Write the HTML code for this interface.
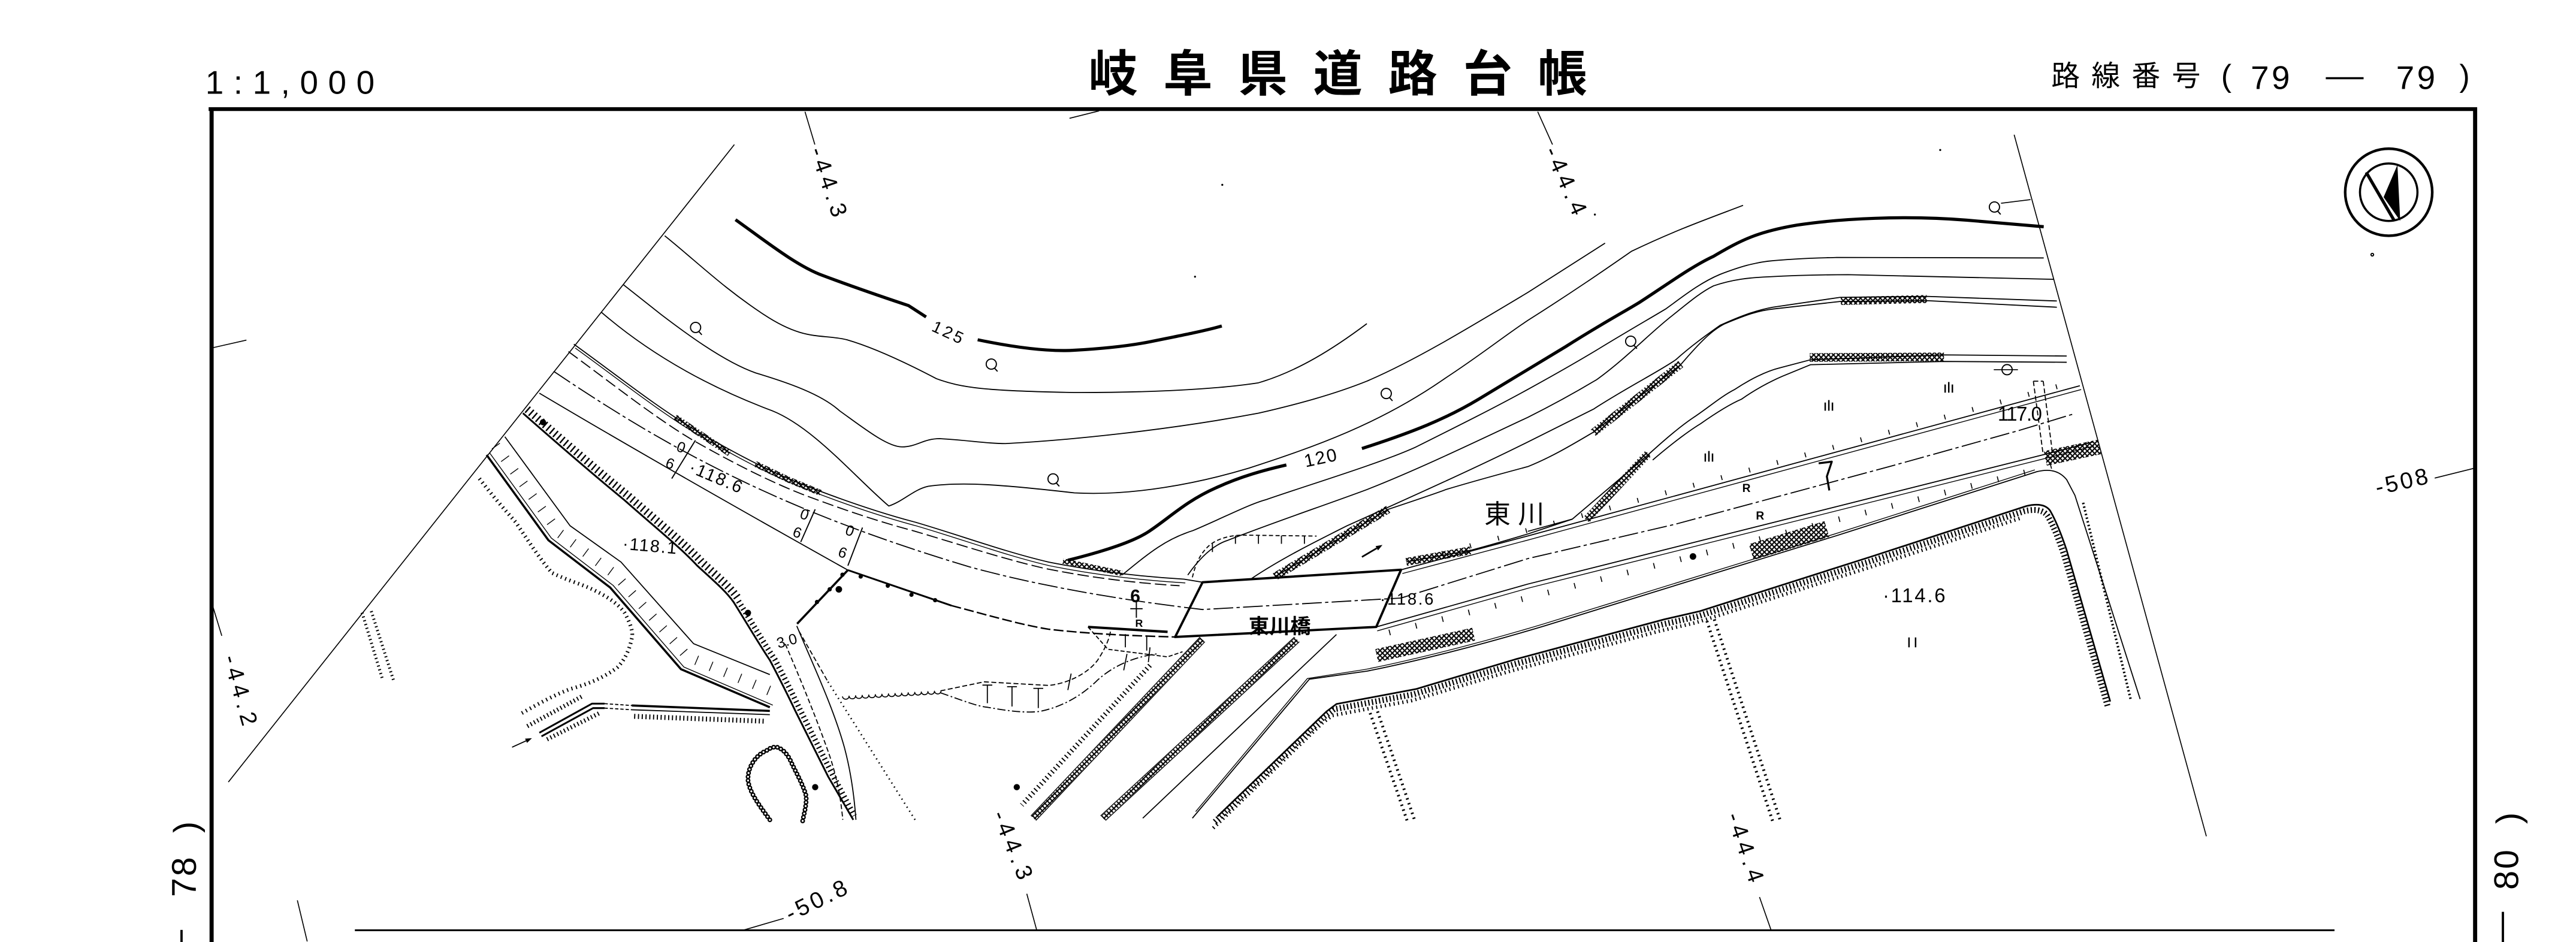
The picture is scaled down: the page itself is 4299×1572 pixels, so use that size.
<!DOCTYPE html>
<html><head><meta charset="utf-8"><title>岐阜県道路台帳</title>
<style>
html,body{margin:0;padding:0;background:#fff}
body{width:4299px;height:1572px;overflow:hidden}
svg{display:block}
text{font-family:"Liberation Sans","Noto Sans CJK JP",sans-serif;fill:#000;stroke:none}
.j{font-family:"Liberation Sans","Noto Sans CJK JP",sans-serif}
</style></head><body>
<svg xmlns="http://www.w3.org/2000/svg" width="4299" height="1572" viewBox="0 0 1568 573.36" preserveAspectRatio="none">
<defs>
<pattern id="xx" width="3" height="3" patternUnits="userSpaceOnUse">
<path d="M0,0L3,3M3,0L0,3" stroke="#000" stroke-width="0.75" fill="none"/>
</pattern>
</defs>
<rect width="1568" height="573.36" fill="#fff"/>

<!-- HEADER -->
<text x="125" y="57" font-size="20" textLength="103" lengthAdjust="spacing">1:1,000</text>
<g class="j" font-size="30" font-weight="bold">
<text x="662.5" y="55.5">岐</text><text x="708.1" y="55.5">阜</text><text x="753.7" y="55.5">県</text><text x="799.3" y="55.5">道</text><text x="844.9" y="55.5">路</text><text x="890.5" y="55.5">台</text><text x="936.1" y="55.5">帳</text>
</g>
<g class="j" font-size="17.5">
<text x="1248.6" y="52.2">路</text><text x="1273" y="52.2">線</text><text x="1297.5" y="52.2">番</text><text x="1322" y="52.2">号</text>
</g>
<text x="1352" y="52.5" font-size="19">(</text>
<text x="1370" y="54.1" font-size="20" letter-spacing="1.6">79</text>
<line x1="1415.7" y1="47.6" x2="1438.7" y2="47.6" stroke="#000" stroke-width="1.3"/>
<text x="1458.5" y="54.1" font-size="20" letter-spacing="1.6">79</text>
<text x="1497" y="52.5" font-size="19">)</text>

<!-- FRAME -->
<g stroke="#000" fill="none">
<line x1="127" y1="66.4" x2="1507.8" y2="66.4" stroke-width="2.3"/>
<line x1="128.8" y1="65.4" x2="128.8" y2="573.4" stroke-width="2.5"/>
<line x1="1506.6" y1="65.4" x2="1506.6" y2="573.4" stroke-width="2.5"/>
<line x1="216" y1="566.2" x2="1421" y2="566.2" stroke-width="1.1"/>
</g>

<!-- side labels -->
<text transform="translate(119.3,546) rotate(-90)" font-size="21" letter-spacing="1">78</text>
<text transform="translate(120.4,507) rotate(-90)" font-size="21">)</text>
<line x1="110.5" y1="566" x2="110.5" y2="573.4" stroke="#000" stroke-width="1.4"/>
<text transform="translate(1532.8,541.6) rotate(-90)" font-size="21" letter-spacing="1">80</text>
<text transform="translate(1534,501.5) rotate(-90)" font-size="21">)</text>
<line x1="1523.5" y1="555" x2="1523.5" y2="573.4" stroke="#000" stroke-width="1.4"/>

<g fill="none" stroke="#000" stroke-width="0.65" stroke-linejoin="round">
<!-- boundaries & ticks -->
<path d="M447,88L139,476M1226,82L1343,509" stroke-width="0.6"/>
<path d="M128,212L150,207M128,364L135,387M490,68L496,88M936,68L945,88M1482,291L1506,285M625,544L631,566M1071,546L1078,566M181,548L187,573M453,566L477,559M651,72L669,67.5" stroke-width="0.6"/>

<!-- contours -->
<path d="M404.6,143.5C425,160 440,175 465,191.5S500,203 515.5,206.8C530,211 550,220 570,230.5C585,236 600,238 653.7,238.9C700,239 740,237 766,233C790,226 812,212 832,197"/>
<path d="M379.5,173.3L402.5,191.5C415,201 440,220 460,227C480,233 500,240 511,250C525,260 540,272 549,272C558,272 562,267 572,267C590,268 600,270 612,270C650,268 710,262 766,251.5C790,246 812,240 832,232C860,220 890,202 930,178L977,148"/>
<path d="M366,190C395,215 430,235 470,250C495,260 520,290 541,308C550,305 556,298 565,296C585,293 610,295 654,300C690,302 730,294 760,285C800,272 840,258 880,230C900,217 915,205 930,195C960,176 980,162 993,153C1020,140 1040,133 1061,125"/>
<path d="M683,350C700,336 710,328 726,323C745,315 760,307 771,304C800,294 840,282 862,272C890,258 910,248 930,237C950,226 962,219 972,213C990,202 1004,194 1014,188C1025,180 1035,172 1047,167C1060,162 1068,160 1076,159C1095,157 1110,157 1118,156.7L1244,157"/>
<path d="M723,350C730,340 738,332 747,329C775,318 805,308 832,298C865,285 900,268 930,254C950,244 962,237 972,231C990,218 1005,202 1018,192C1028,184 1035,178 1043,174C1055,170 1065,169 1076,168.5C1095,167.5 1110,167.2 1125,167.2L1250,170"/>
<path d="M762,352C780,340 800,330 820,320C860,302 900,284 930,269C950,259 962,253 970,249C990,236 1010,226 1020,219C1030,210 1040,203 1047,198C1058,193 1068,189 1079,187L1120,181L1173,180.4L1252,183.2"/>
<path d="M447.7,133.7C465,146 485,162 500.9,167.7C515,173 535,180 553,186L563.7,192.9M595.1,206.8C620,212 640,214 653.7,213.2C675,212 690,210 700,208C720,204 735,201 743.7,198.4" stroke-width="1.9"/>
<path d="M650,341C670,336 690,330 700,323C712,315 722,305 740,297C755,290 770,286 783,283M829,273C860,263 880,255 900,243C925,228 940,219 953,211C975,197 990,189 998,184C1015,173 1030,162 1043,156C1060,146 1070,141 1094,137C1120,133 1160,131 1197,134L1244,138" stroke-width="1.9"/>

<!-- river banks -->
<path d="M776,351L845,310C860,305 875,300 880,298C900,292 915,288 930,284C945,278 958,270 970,263L1023,222C1035,208 1042,201 1050,197C1062,192 1070,189 1080,188L1120,183.5L1173,183L1252,187"/>
<path d="M856,342L895,335C910,331 920,328 930,325L957,316L1003,277C1015,266 1025,258 1031,254C1040,248 1048,241 1056,237C1065,231 1075,226 1083,224L1102,219L1183,216L1258,216.7"/>
<path d="M1006,280C1020,268 1030,261 1035,258C1045,251 1053,246 1060,243C1070,236 1078,232 1085,229L1102,222L1183,220L1258,220.5"/>
<path d="M957,316L930,323.4"/>

<!-- hatched strips -->
<g stroke="url(#xx)">
<path d="M411,254L444,276" stroke-width="3.6"/>
<path d="M459.8,282.4L480,292L499.5,300" stroke-width="3.6"/>
<path d="M647,341.5L683,349" stroke-width="3.2"/>
<path d="M776,351L845,310" stroke-width="4.8"/>
<path d="M856,342L895,335" stroke-width="4.8"/>
<path d="M969.8,263.4L1023.1,221.6" stroke-width="4.8"/>
<path d="M965.6,316.4L1003.3,276" stroke-width="4.8"/>
<path d="M1120.5,183.2L1172.8,182" stroke-width="4.8"/>
<path d="M1101.6,217.6L1183.3,217.2" stroke-width="5.2"/>
<path d="M1066,336L1112,322" stroke-width="10"/>
<path d="M838,399L897,386" stroke-width="8"/>
<path d="M1245,279L1278,272" stroke-width="9"/>
<path d="M731.9,389.2L629,498M789.4,389.2L671.4,498" stroke-width="3.4"/>
</g>
<path d="M733.4,390.6L630.5,499.4M730.4,387.8L627.5,496.6M790.9,390.6L672.9,499.4M787.9,387.8L669.9,496.6" stroke-width="0.5"/>

<!-- main road -->
<path d="M349.3,209.5C375,228 400,248 424.4,262.5C446,275 468,287 490.7,295.7C512,304 535,312 557,317.8C585,326 612,336 638.3,342.1C668,348 695,351 720.7,352.5L732,354.4L852.8,346.8L930,326.2L1258.2,236.9L1266,234.8"/>
<path transform="translate(0.8,2.3)" d="M349.3,209.5C375,228 400,248 424.4,262.5C446,275 468,287 490.7,295.7C512,304 535,312 557,317.8C585,326 612,336 638.3,342.1C668,348 695,351 720.7,352.5M852.8,346.8L930,326.2L1258.2,236.9L1266,234.8" stroke-width="0.5"/>
<path d="M346,214C372,233 397,253 421,267.5C443,280 466,292 488,300.7C510,309 533,317 555,322.8C583,331 610,340 636,346C666,352 693,355 718,356.5" stroke-dasharray="7 2.5"/>
<path d="M337,226C380,255 410,272 440,287C490,312 540,330 590,345C630,356 680,365 732,371L852.8,364L930,340L1020,319L1150,284L1229,262L1262,252" stroke-dasharray="12 2 2 2"/>
<path d="M328.3,239.3C380,270 450,310 516.1,347"/>
<path d="M516.1,347L579.1,368.6" stroke-width="1.1"/>
<path d="M579.1,368.6C600,374 620,380 638.3,383C665,386 690,387 715.3,387.7" stroke-dasharray="6 2" stroke-width="0.9"/>
<path d="M485.2,379.7L516.1,347" stroke-width="1.3"/>
<path d="M732,354.4L852.8,346.8L837.7,381.6L715.3,387.7Z" stroke-width="1.4"/>
<path d="M837.7,381.6L930,355.5L1258,273.2L1274,269"/>
<path transform="translate(0.6,2.4)" d="M837.7,381.6L930,355.5L1258,273.2L1274,269" stroke-width="0.5"/>
<path d="M725.8,498L797,413.4L832,408.5C860,403 900,393 940,381L1118,326L1239.8,287.1C1248,285 1254,287 1258,292L1263,301.5L1302.7,425.5"/>
<path transform="translate(-1.2,-2)" d="M729,496L797,415L832,409.5C860,404 900,394 940,382L1118,327L1239.8,288" stroke-width="0.5"/>
<path d="M813.5,386.2L695.6,498"/>
<!-- toothed slope right -->
<path d="M741,497L807.5,433L813.5,428.5L861.9,419.4L922.4,401.3L1013,377L1034.7,372L1139.3,338.7L1233.5,308C1242,306 1246,308 1248,311C1252,318 1255,326 1258,335L1284.5,427" stroke-width="1"/>
<path transform="translate(-1.5,3.2)" d="M741,497L807.5,433L813.5,428.5L861.9,419.4L922.4,401.3L1013,377L1034.7,372L1139.3,338.7L1233.5,308C1242,306 1246,308 1248,311C1252,318 1255,326 1258,335L1284.5,427" stroke-width="3.6" stroke-dasharray="0.8 1.4"/>
<path transform="translate(-2.5,7)" d="M741,497L807.5,433L813.5,428.5L861.9,419.4L922.4,401.3L1013,377L1034.7,372L1139.3,338.7L1233.5,308" stroke-width="2.2" stroke-dasharray="0.7 2"/>
<path d="M1268,306L1297,426" stroke-width="1.5" stroke-dasharray="0.9 1.4"/>
<path d="M1237.7,232L1243.7,277M1243.7,232L1249.5,277M1237.7,232L1243.7,232" stroke-dasharray="3 1.5"/>
<!-- T ticks on road -->
<path d="M860,344L1258,236" transform="translate(0.8,-2.5)" stroke-width="3" stroke-dasharray="0.6 17"/>
<path d="M845,380L1258,276" transform="translate(0.6,5)" stroke-width="3.5" stroke-dasharray="0.6 16"/>

<!-- left cut slope + side road -->
<path d="M318.3,251.5C345,275 365,292 380.2,304.5C400,322 415,334 424.4,344.3C435,354 442,360 446.5,366.4C455,380 462,392 468.6,401.8C475,414 480,424 484.1,432.7L504,472.5L519.4,499" stroke-width="1.1"/>
<path transform="translate(2.6,-2.4)" d="M318.3,251.5C345,275 365,292 380.2,304.5C400,322 415,334 424.4,344.3C435,354 442,360 446.5,366.4" stroke-width="4.8" stroke-dasharray="0.9 1.9"/>
<path transform="translate(3,-0.5)" d="M446.5,366.4C455,380 462,392 468.6,401.8C475,414 480,424 484.1,432.7L504,472.5L517,497" stroke-width="3.4" stroke-dasharray="0.8 1.8"/>
<path d="M485,381C495,405 507,430 514,455C518,470 520,485 521,499"/>
<path d="M478,392C488,415 498,440 505,460C510,475 512,488 513,499" stroke-dasharray="3 1.5"/>
<path d="M486.3,384.1L504,415" stroke-dasharray="3 1.5"/>
<path d="M504,415L557,499" stroke-width="1" stroke-dasharray="0.7 2.2"/>

<!-- stepped retaining wall -->
<path d="M296.2,276.9L333.8,328.8L371.4,357.6L414.5,407.3L468.6,430.5" stroke-width="1.3"/>
<path transform="translate(1.8,-1.3)" d="M296.2,276.9L333.8,328.8L371.4,357.6L414.5,407.3L468.6,430.5" stroke-width="0.5"/>
<path d="M307.3,265.8L347,320L378,342.1L422.2,391.8L468.6,410.6"/>
<path d="M301.7,271.3L340.4,324.4L374.7,349.8L418.3,399.5L468.6,420.5" stroke-width="6" stroke-dasharray="0.5 9"/>
<!-- dotted toe -->
<path d="M291.8,291.3C300,302 307,310 313.9,317.8C322,330 330,342 336,348.7C345,353 352,355 358.1,357.6C368,362 376,367 380.2,373C384,380 385.5,385 384.6,388.5C383,396 380,402 375.8,406.2C367,413 356,417 347,419.4C335,424 325,430 316.1,434.9" stroke-width="2.3" stroke-dasharray="0.7 2.1"/>
<path d="M220.4,372.9L233,414M226,372L239.5,414" stroke-width="1.8" stroke-dasharray="0.7 1.7"/>
<!-- lower left walls -->
<path d="M328.3,446L360.3,428.3L368,428.3M329.6,448.2L361,431L368,431" stroke-width="1.1"/>
<path d="M368,428.3L384.6,429.4M368,431L384.6,432" stroke-dasharray="2 1.2"/>
<path d="M384.6,429.4L468.6,432.7" stroke-width="1.3"/>
<path d="M384.6,432L468.6,435"/>
<path d="M386,436L466,439" stroke-width="3" stroke-dasharray="0.7 1.6"/>
<path d="M321,442L354,424" stroke-width="2.6" stroke-dasharray="0.7 1.6"/>
<path d="M333,450L365,434" stroke-width="2.6" stroke-dasharray="0.7 1.6"/>
<path d="M311.7,454.8L320.5,450.8"/>
<!-- middle dashed region -->
<path d="M512.8,423.9a2,1.8 0 0 0 4,-0.23a2,1.8 0 0 0 4,-0.23a2,1.8 0 0 0 4,-0.23a2,1.8 0 0 0 4,-0.23a2,1.8 0 0 0 4,-0.23a2,1.8 0 0 0 4,-0.23a2,1.8 0 0 0 4,-0.23a2,1.8 0 0 0 4,-0.23a2,1.8 0 0 0 4,-0.23a2,1.8 0 0 0 4,-0.23a2,1.8 0 0 0 4,-0.23a2,1.8 0 0 0 4,-0.23a2,1.8 0 0 0 4,-0.23a2,1.8 0 0 0 4,-0.23a2,1.8 0 0 0 4,-0.23" stroke-width="0.6"/>
<path d="M572.5,420.5L599,415L638.3,417.2C650,416 662,410 668,402C672,396 675,390 676,384" stroke-dasharray="3 1.5"/>
<path d="M572.5,421.7C585,426 595,430 601.2,430.5C615,433 625,434 633,433C648,430 660,422 668,414C678,405 690,400 704,398" stroke-dasharray="5 1.5 1 1.5"/>
<path d="M601,417L601,428M598,417L604,417M616,418L616,430M613,418L619,418M632,419L632,431M629,419L635,419M652,410L650,420M686,398L684,408M700,394L699,403"/>
<path d="M662.3,381.6L710.7,384.6" stroke-width="1.5"/>
<path d="M662.3,381.6L674.4,395.2L710.7,399.8L719.8,396.7" stroke-dasharray="2.5 1.2"/>
<path d="M685,386L685,394M698,387L698,396"/>
<path d="M725.8,351.4C728,342 731,337 735,333C740,328 748,326 756,325.7L801.4,326.3" stroke-dasharray="2.5 1.5"/>
<path d="M738,331L738,336M752,326L752,331M766,326L766,331M780,326L780,331M794,326L794,331"/>
<path d="M700,405L622,490" stroke-width="3" stroke-dasharray="0.7 1.8"/>
<!-- dotted bands -->
<path d="M834,434L856.6,499.8M838.5,433L861,499" stroke-width="1.8" stroke-dasharray="0.9 2.2"/>
<path d="M1039,378L1079,499.8M1043.5,377L1083.5,499" stroke-width="1.8" stroke-dasharray="0.9 2.2"/>
<!-- small markers -->
<path d="M691.7,366.5L691.7,376M688,370.5L695.5,370.5" stroke-width="0.7"/>
<path d="M1107,282L1115,281L1112,290L1113.5,298.5" stroke-width="1.2"/>
<path d="M1038,276v5M1040.2,274.5v6.5M1042.4,276v5M1111,245v5M1113.2,243.5v6.5M1115.4,245v5M1184,234v5M1186.2,232.5v6.5M1188.4,234v5M1162,388v6M1166,388v6" stroke-width="0.9"/>
<path d="M423.3,268L408.9,291.3M496.2,310L487.4,329.9M525,321.1L516.1,344.3" stroke-width="0.7"/>
<path d="M829,339L838,333.7" stroke-width="1"/>
<path d="M1218,123.7L1236,121.5M1213.6,225L1228.3,225" stroke-width="0.6"/>
<!-- chain loop -->
<path d="M468.6,499C462,490 456,482 455.3,474.7C455,466 461,459 466.4,457C469,455 471,454.5 473,454.8C477,456 480,460 481.9,464.6C485,471 489,478 490.7,484.5C491,490 489.5,495 488.5,500" stroke-width="2.9" stroke-dasharray="0 2.3" stroke-linecap="round"/>
<path d="M468.6,499C462,490 456,482 455.3,474.7C455,466 461,459 466.4,457C469,455 471,454.5 473,454.8C477,456 480,460 481.9,464.6C485,471 489,478 490.7,484.5C491,490 489.5,495 488.5,500" stroke="#fff" stroke-width="1.2" stroke-dasharray="0 2.3" stroke-linecap="round"/>
<!-- compass -->
<circle cx="1454" cy="117" r="26.5" stroke-width="1.6"/>
<circle cx="1454" cy="117" r="17.5" stroke-width="1.3"/>
<path d="M1440.3,104.9L1457.5,134.5" stroke-width="1.9"/>
<!-- Q trees -->
<g stroke-width="0.7">
<circle cx="423.4" cy="199.3" r="3.1"/><path d="M425.4,201.8l1.8,2"/>
<circle cx="603.4" cy="221.6" r="3.1"/><path d="M605.4,224.1l1.8,2"/>
<circle cx="641" cy="291.5" r="3.1"/><path d="M643,294l1.8,2"/>
<circle cx="843.8" cy="239.5" r="3.1"/><path d="M845.8,242l1.8,2"/>
<circle cx="992.6" cy="207.7" r="3.1"/><path d="M994.6,210.2l1.8,2"/>
<circle cx="1214" cy="126" r="3.1"/><path d="M1216,128.5l1.8,2"/>
<circle cx="1221.7" cy="225" r="3.1"/>
<circle cx="1444" cy="155" r="0.8"/>
</g>
</g>

<!-- filled items -->
<g fill="#000" stroke="none">
<polygon points="1459.3,100.4 1461,134.5 1450.9,120"/>
<polygon points="841.5,331.7 838.8,335 837.3,332.4"/>
<polygon points="323.8,449.3 320.8,452.2 319.6,449.6"/>
<circle cx="330.5" cy="257" r="1.9"/>
<circle cx="455.3" cy="373" r="1.9"/>
<circle cx="510.6" cy="358.7" r="2"/>
<circle cx="496.2" cy="479.1" r="1.9"/>
<circle cx="618.9" cy="479.1" r="1.9"/>
<circle cx="1030.5" cy="338.7" r="2"/>
<circle cx="497.3" cy="366.4" r="1.3"/><circle cx="505" cy="358.7" r="1.3"/><circle cx="512.8" cy="349.8" r="1.3"/>
<circle cx="523.9" cy="350.9" r="1.3"/><circle cx="540.4" cy="356.5" r="1.3"/><circle cx="554.8" cy="362" r="1.3"/><circle cx="569.2" cy="365.3" r="1.3"/>
<circle cx="744" cy="112.5" r="0.6"/><circle cx="727.4" cy="168.4" r="0.6"/><circle cx="1181" cy="91.3" r="0.6"/><circle cx="970.8" cy="130.6" r="0.6"/>
</g>

<!-- map labels -->
<g font-size="14" letter-spacing="3" dominant-baseline="central">
<text transform="translate(497,90) rotate(71)">-44.3</text>
<text transform="translate(944,90) rotate(66)">-44.4</text>
<text transform="translate(140,399) rotate(74)">-44.2</text>
<text transform="translate(608,494) rotate(68)">-44.3</text>
<text transform="translate(1055,495) rotate(71)">-44.4</text>
</g>
<text transform="translate(1446,297) rotate(-13)" font-size="14" letter-spacing="1.5" dominant-baseline="central">-508</text>
<text transform="translate(479,557) rotate(-26)" font-size="14" letter-spacing="2" dominant-baseline="central">-50.8</text>
<text transform="translate(568,198) rotate(25)" font-size="10" letter-spacing="1.5" dominant-baseline="central">125</text>
<text transform="translate(794,281) rotate(-12)" font-size="11" letter-spacing="0.8" dominant-baseline="central">120</text>
<text transform="translate(420,284) rotate(23)" font-size="10.5" letter-spacing="1" dominant-baseline="central">·118.6</text>
<text transform="translate(379,331) rotate(5)" font-size="10.5" letter-spacing="0.8" dominant-baseline="central">·118.1</text>
<text transform="translate(473,392) rotate(-15)" font-size="9" dominant-baseline="central">3.0</text>
<g font-size="9" text-anchor="middle" dominant-baseline="central">
<text transform="translate(414.5,272.5) rotate(20)">0</text><text transform="translate(407.8,282.4) rotate(20)">6</text>
<text transform="translate(489.6,313.4) rotate(20)">0</text><text transform="translate(485.2,324.4) rotate(20)">6</text>
<text transform="translate(517.2,323.3) rotate(20)">0</text><text transform="translate(512.8,336.6) rotate(20)">6</text>
</g>
<g class="j" font-size="16"><text x="903.5" y="318.5">東</text><text x="924" y="318.5">川</text></g>
<text class="j" x="760" y="385.5" font-size="12.5" font-weight="bold" letter-spacing="0.2">東川橋</text>
<text x="840" y="368" font-size="10" letter-spacing="1">·118.6</text>
<text x="688" y="366.5" font-size="11" font-weight="bold">6</text>
<text x="691" y="381.6" font-size="6.5" font-weight="bold">R</text>
<text x="1060.5" y="299.5" font-size="7" font-weight="bold">R</text>
<text x="1068.8" y="316.2" font-size="7" font-weight="bold">R</text>
<text x="1146" y="366.5" font-size="12" letter-spacing="1">·114.6</text>
<text x="1216" y="256" font-size="12" textLength="27" lengthAdjust="spacing">117.0</text>
</svg>
</body></html>
